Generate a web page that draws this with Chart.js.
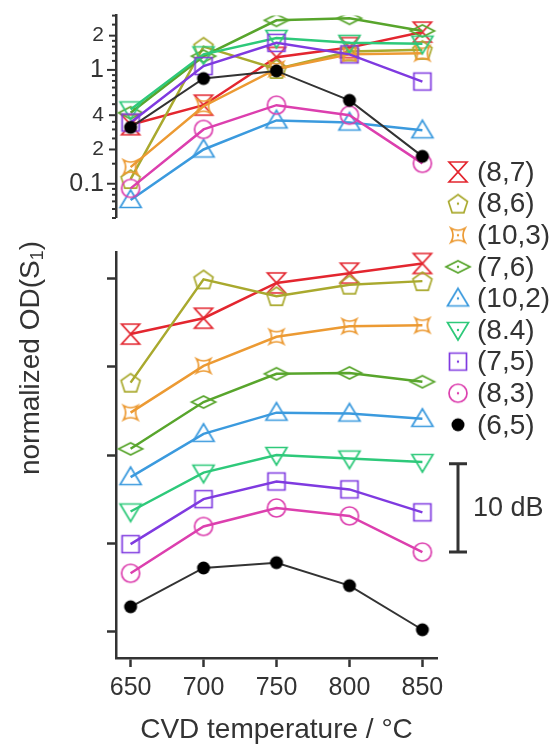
<!DOCTYPE html>
<html>
<head>
<meta charset="utf-8">
<script src="https://cdn.jsdelivr.net/npm/chart.js@4.4.1/dist/chart.umd.min.js"></script>
<style>
  html, body { margin: 0; padding: 0; background: #fff; }
  #lienzo { position: relative; width: 555px; height: 747px; }
  #lienzo canvas { position: absolute; left: 0; top: 0; }
</style>
</head>
<body>
<div id="lienzo">
  <canvas id="grafico-log" width="555" height="747"></canvas>
  <canvas id="grafico-db" width="555" height="747"></canvas>
</div>
<script>
// Temperaturas de síntesis (eje x compartido)
const temperaturas = [650, 700, 750, 800, 850];
const quiralidades = ["(8,7)", "(8,6)", "(10,3)", "(7,6)", "(10,2)", "(8.4)", "(7,5)", "(8,3)", "(6,5)"];

// Panel superior: OD(S1) normalizada, escala logarítmica
const od87  = [0.33, 0.49, 1.29, 1.57, 2.15];
const od86  = [0.11, 1.60, 1.02, 1.45, 1.50];
const od103 = [0.14, 0.48, 1.02, 1.37, 1.40];
const od76  = [0.42, 1.32, 2.73, 2.84, 2.20];
const od102 = [0.072, 0.20, 0.36, 0.345, 0.295];
const od84  = [0.45, 1.37, 1.91, 1.73, 1.70];
const od75  = [0.345, 1.08, 1.73, 1.37, 0.79];
const od83  = [0.091, 0.30, 0.49, 0.40, 0.151];
const od65  = [0.313, 0.84, 0.98, 0.54, 0.174];

// Panel inferior: las mismas curvas en dB, desplazadas
const db87  = [33.7, 35.5, 39.5, 40.6, 41.7];
const db86  = [28.2, 39.9, 38.0, 39.3, 39.7];
const db103 = [24.8, 30.1, 33.4, 34.6, 34.7];
const db76  = [20.7, 26.0, 29.2, 29.3, 28.3];
const db102 = [17.5, 22.4, 24.8, 24.7, 24.1];
const db84  = [13.6, 18.0, 20.0, 19.6, 19.2];
const db75  = [9.9, 15.0, 17.0, 16.1, 13.5];
const db83  = [6.6, 11.9, 14.0, 13.1, 9.0];
const db65  = [2.8, 7.2, 7.8, 5.2, 0.2];

// Marcas del eje logarítmico y sus etiquetas
const ticksLog = [0.05, 0.06, 0.07, 0.08, 0.09, 0.1, 0.15, 0.2, 0.25, 0.3, 0.35, 0.4, 0.5, 0.6, 0.7, 0.8, 0.9,
                  1, 1.2, 1.4, 1.6, 1.8, 2, 2.5, 3];
const etiquetasLog = { 0.1: "0.1", 0.2: "2", 0.4: "4", 1: "1", 2: "2" };
const ticksDb = [0, 10, 20, 30, 40];
const escalaDb = [9, 19]; // barra de 10 dB

const odSeries = [od87, od86, od103, od76, od102, od84, od75, od83, od65];
const dbSeries = [db87, db86, db103, db76, db102, db84, db75, db83, db65];

// Estilo de cada quiralidad
const colores = ["#e3262f", "#a9a92e", "#ec9a33", "#58a52c", "#3b9ade", "#2ec97a", "#7f3ae0", "#dc3fae", "#000000"];
const formas = ["reloj", "pentagono", "estrella", "rombo", "triangulo", "trianguloInv", "cuadrado", "circulo", "punto"];

const FUENTE = "'Liberation Sans', Arial, sans-serif";
const GRIS = "#333";

// Dibuja un marcador en un canvas pequeño para usarlo como pointStyle
function marcador(forma, color, conPunto) {
  const c = document.createElement("canvas");
  c.width = 30; c.height = 30;
  const g = c.getContext("2d");
  g.translate(15, 15);
  g.strokeStyle = color;
  g.fillStyle = color;
  g.lineWidth = 1.7;
  g.beginPath();
  switch (forma) {
    case "reloj":
      g.moveTo(-9, -10); g.lineTo(9, -10); g.lineTo(-9, 10); g.lineTo(9, 10); g.closePath();
      break;
    case "pentagono":
      for (let i = 0; i < 5; i++) {
        const a = -Math.PI / 2 + i * 2 * Math.PI / 5;
        const px = 10 * Math.cos(a), py = 10 * Math.sin(a) + 1;
        i === 0 ? g.moveTo(px, py) : g.lineTo(px, py);
      }
      g.closePath();
      break;
    case "estrella":
      g.moveTo(-7, -7);
      g.quadraticCurveTo(0, -3, 7, -7);
      g.quadraticCurveTo(3, 0, 7, 7);
      g.quadraticCurveTo(0, 3, -7, 7);
      g.quadraticCurveTo(-3, 0, -7, -7);
      g.closePath();
      break;
    case "rombo":
      g.moveTo(-12, 0); g.lineTo(0, -6); g.lineTo(12, 0); g.lineTo(0, 6); g.closePath();
      break;
    case "triangulo":
      g.moveTo(0, -10); g.lineTo(10.5, 7.5); g.lineTo(-10.5, 7.5); g.closePath();
      break;
    case "trianguloInv":
      g.moveTo(0, 10); g.lineTo(10.5, -7.5); g.lineTo(-10.5, -7.5); g.closePath();
      break;
    case "cuadrado":
      g.rect(-8.5, -8.5, 17, 17);
      break;
    case "circulo":
      g.arc(0, 0, 9, 0, Math.PI * 2);
      break;
    case "punto":
      g.arc(0, 0, 6.5, 0, Math.PI * 2);
      g.fill();
      return c;
  }
  g.stroke();
  if (conPunto) {
    g.beginPath();
    g.arc(0, 0, 1.2, 0, Math.PI * 2);
    g.fill();
  }
  return c;
}

const marcadores = formas.map((f, i) => marcador(f, colores[i], false));
const marcadoresLeyenda = formas.map((f, i) => marcador(f, colores[i], true));

function construirDatasets(series) {
  return series.map((valores, i) => ({
    label: quiralidades[i],
    data: temperaturas.map((t, k) => ({ x: t, y: valores[k] })),
    borderColor: i === 8 ? GRIS : colores[i],
    borderWidth: i === 8 ? 2 : 2.5,
    pointStyle: marcadores[i],
    pointRadius: 9,
    pointHoverRadius: 9,
    tension: 0,
    fill: false
  })).reverse();
}

const ejeX = {
  type: "linear",
  min: 640,
  max: 860,
  afterBuildTicks: (s) => { s.ticks = temperaturas.map(v => ({ value: v })); },
  ticks: { font: { family: FUENTE, size: 25 }, color: GRIS, padding: 6 },
  grid: { drawOnChartArea: false, tickLength: 9, tickColor: GRIS, tickWidth: 2.5 },
  border: { color: GRIS, width: 2.5 },
  title: {
    display: true,
    text: "CVD temperature / °C",
    font: { family: FUENTE, size: 28 },
    color: GRIS,
    padding: { top: 7, bottom: 0 }
  },
  afterFit: (s) => { s.height = 89; }
};

// Marcas del eje log con distintas longitudes
const marcasLog = {
  id: "marcasLog",
  afterDraw(chart) {
    const y = chart.scales.y;
    const g = chart.ctx;
    g.save();
    g.strokeStyle = GRIS;
    g.lineWidth = 2;
    y.ticks.forEach(t => {
      const py = y.getPixelForValue(t.value);
      const largo = (t.value === 0.1 || t.value === 1) ? 9 : (etiquetasLog[t.value] ? 7 : 4);
      g.beginPath();
      g.moveTo(y.right, py);
      g.lineTo(y.right - largo, py);
      g.stroke();
    });
    g.restore();
  }
};

new Chart(document.getElementById("grafico-log").getContext("2d"), {
  type: "line",
  data: { datasets: construirDatasets(odSeries) },
  options: {
    responsive: false,
    animation: false,
    layout: { padding: { left: 60, right: 118, top: 11, bottom: 529 } },
    plugins: { legend: { display: false }, tooltip: { enabled: false } },
    scales: {
      x: { type: "linear", min: 640, max: 860, display: false },
      y: {
        type: "logarithmic",
        min: 0.05,
        max: 3,
        afterFit: (s) => { s.width = 56; },
        afterBuildTicks: (s) => { s.ticks = ticksLog.map(v => ({ value: v })); },
        ticks: {
          autoSkip: false,
          padding: 3,
          color: GRIS,
          font: (c) => ({ family: FUENTE, size: (c.tick && (c.tick.value === 0.1 || c.tick.value === 1)) ? 25 : 21 }),
          callback: (v) => etiquetasLog[v] || ""
        },
        grid: { drawOnChartArea: false, tickLength: 9, tickColor: "rgba(0,0,0,0)" },
        border: { color: GRIS, width: 2.5 }
      }
    }
  },
  plugins: [marcasLog]
});

// Leyenda, barra de escala y título del eje y
const anotaciones = {
  id: "anotaciones",
  afterDraw(chart) {
    const g = chart.ctx;
    const y = chart.scales.y;
    g.save();
    g.fillStyle = GRIS;
    g.textBaseline = "middle";
    g.font = "28px " + FUENTE;

    quiralidades.forEach((q, i) => {
      const py = 172 + i * 31.6;
      const m = marcadoresLeyenda[i];
      g.drawImage(m, 458 - m.width / 2, py - m.height / 2);
      g.fillStyle = GRIS;
      g.fillText(q, 477, py + 1);
    });

    // barra de 10 dB
    const y1 = y.getPixelForValue(escalaDb[1]);
    const y0 = y.getPixelForValue(escalaDb[0]);
    g.strokeStyle = GRIS;
    g.lineWidth = 3;
    g.beginPath();
    g.moveTo(458, y1); g.lineTo(458, y0);
    g.moveTo(449, y1); g.lineTo(467, y1);
    g.moveTo(449, y0); g.lineTo(467, y0);
    g.stroke();
    g.font = "27px " + FUENTE;
    g.fillText("10 dB", 473, (y0 + y1) / 2 + 1);

    // título rotado con subíndice
    g.translate(31, 358);
    g.rotate(-Math.PI / 2);
    g.textAlign = "left";
    g.font = "28px " + FUENTE;
    const base = "normalized OD(S";
    const w1 = g.measureText(base).width;
    g.font = "18px " + FUENTE;
    const w2 = g.measureText("1").width;
    g.font = "28px " + FUENTE;
    const w3 = g.measureText(")").width;
    let x0 = -(w1 + w2 + w3) / 2;
    g.fillText(base, x0, 0);
    g.font = "18px " + FUENTE;
    g.fillText("1", x0 + w1, 7);
    g.font = "28px " + FUENTE;
    g.fillText(")", x0 + w1 + w2, 0);
    g.restore();
  }
};

new Chart(document.getElementById("grafico-db").getContext("2d"), {
  type: "line",
  data: { datasets: construirDatasets(dbSeries) },
  options: {
    responsive: false,
    animation: false,
    layout: { padding: { left: 60, right: 118, top: 252, bottom: 0 } },
    plugins: { legend: { display: false }, tooltip: { enabled: false } },
    scales: {
      x: ejeX,
      y: {
        type: "linear",
        min: -3,
        max: 43,
        afterFit: (s) => { s.width = 56; },
        afterBuildTicks: (s) => { s.ticks = ticksDb.map(v => ({ value: v })); },
        ticks: { display: false },
        grid: { drawOnChartArea: false, tickLength: 9, tickColor: GRIS, tickWidth: 2.5 },
        border: { color: GRIS, width: 2.5 }
      }
    }
  },
  plugins: [anotaciones]
});
</script>
</body>
</html>
